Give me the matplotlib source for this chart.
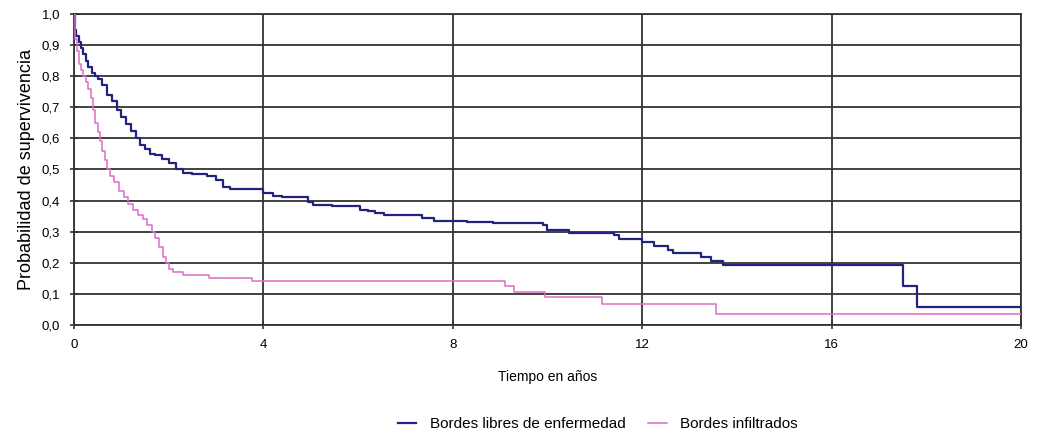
import matplotlib
matplotlib.use("Agg")
import matplotlib.pyplot as plt

# Kaplan-Meier style survival curves
libres_t = [0, 0.02, 0.05, 0.1, 0.15, 0.2, 0.25, 0.3, 0.38, 0.45,
            0.5, 0.6, 0.7, 0.8, 0.9, 1.0, 1.1, 1.2, 1.3, 1.4,
            1.5, 1.6, 1.7, 1.85, 2.0, 2.15, 2.3, 2.5, 2.8, 3.0,
            3.15, 3.3, 4.0, 4.2, 4.4, 4.95, 5.05, 5.45, 6.05, 6.2,
            6.35, 6.55, 7.35, 7.6, 8.3, 8.85, 9.9, 10.0, 10.45, 11.4,
            11.5, 12.0, 12.25, 12.55, 12.65, 13.25, 13.45, 13.7, 17.5, 17.8,
            20]
libres_s = [1.0, 0.95, 0.93, 0.91, 0.89, 0.87, 0.85, 0.83, 0.81, 0.80,
            0.79, 0.77, 0.74, 0.72, 0.69, 0.67, 0.645, 0.625, 0.60, 0.58,
            0.565, 0.55, 0.545, 0.535, 0.52, 0.50, 0.49, 0.485, 0.48, 0.465,
            0.445, 0.437, 0.425, 0.415, 0.41, 0.395, 0.385, 0.383, 0.37, 0.365,
            0.36, 0.354, 0.344, 0.335, 0.33, 0.327, 0.32, 0.305, 0.295, 0.29,
            0.277, 0.267, 0.254, 0.241, 0.232, 0.219, 0.206, 0.193, 0.125, 0.058,
            0.058]

infil_t = [0, 0.03, 0.06, 0.1, 0.15, 0.2, 0.25, 0.3, 0.35, 0.4,
           0.45, 0.5, 0.55, 0.6, 0.65, 0.7, 0.75, 0.85, 0.95, 1.05,
           1.15, 1.25, 1.35, 1.45, 1.55, 1.65, 1.72, 1.8, 1.87, 1.95,
           2.0, 2.1, 2.3, 2.85, 3.75, 9.1, 9.3, 9.95, 11.15, 13.55,
           20]
infil_s = [1.0, 0.92, 0.88, 0.84, 0.82, 0.80, 0.78, 0.76, 0.73, 0.69,
           0.65, 0.62, 0.59, 0.56, 0.53, 0.50, 0.48, 0.46, 0.43, 0.41,
           0.39, 0.37, 0.355, 0.34, 0.32, 0.30, 0.28, 0.25, 0.22, 0.20,
           0.18, 0.17, 0.16, 0.15, 0.14, 0.125, 0.105, 0.09, 0.068, 0.035,
           0.035]

x_ticks = [0, 4, 8, 12, 16, 20]
y_ticks = [i / 10 for i in range(11)]
y_labels = [f"{v:.1f}".replace(".", ",") for v in y_ticks]

plt.rcParams['font.family'] = ['Liberation Sans', 'DejaVu Sans']

fig = plt.figure(figsize=(10.38, 4.36), dpi=100)
ax = fig.add_axes([0.0713, 0.2546, 0.9123, 0.7134])

ax.plot(libres_t, libres_s, drawstyle='steps-post', color='#23237f',
        linewidth=1.6, label='Bordes libres de enfermedad', zorder=3)
ax.plot(infil_t, infil_s, drawstyle='steps-post', color='#dc6cc8',
        linewidth=1.1, label='Bordes infiltrados', zorder=3)

ax.set_xlim(0, 20)
ax.set_ylim(0, 1)
ax.set_xticks(x_ticks)
ax.set_yticks(y_ticks)
ax.set_yticklabels(y_labels)
ax.tick_params(direction='inout', length=6, width=1.2, labelsize=9.5, color='#333333')
ax.tick_params(axis='y', pad=7)
ax.tick_params(axis='x', pad=7)
ax.grid(True, color='#333333', linewidth=1.3)
for s in ax.spines.values():
    s.set_color('#333333')
    s.set_linewidth(1.3)

ax.set_xlabel('Tiempo en años', fontsize=10, labelpad=14)
ax.set_ylabel('Probabilidad de supervivencia', fontsize=13, labelpad=5)

fig.legend(loc='center', bbox_to_anchor=(0.576, 0.027), ncol=2, frameon=False,
           fontsize=11, handlelength=1.2, handletextpad=0.9, columnspacing=1.5)

fig.savefig('out.png', dpi=100)
